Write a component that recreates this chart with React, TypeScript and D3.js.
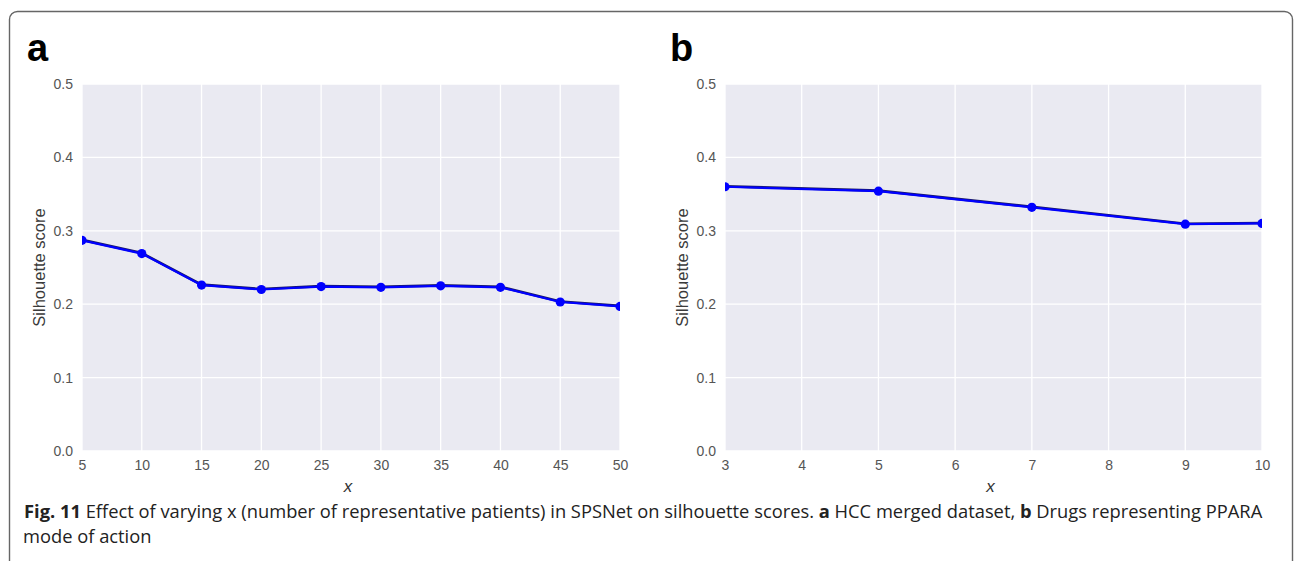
import React, { useRef, useEffect } from 'react';
import * as d3 from 'd3';

// panel a: HCC merged dataset
const xA = [5, 10, 15, 20, 25, 30, 35, 40, 45, 50];
const scoreA = [0.287, 0.269, 0.226, 0.220, 0.224, 0.223, 0.225, 0.223, 0.203, 0.197];
// panel b: drugs representing PPARA mode of action
const xB = [3, 5, 7, 9, 10];
const scoreB = [0.360, 0.354, 0.332, 0.309, 0.310];

const xTicksA = [5, 10, 15, 20, 25, 30, 35, 40, 45, 50];
const xTicksB = [3, 4, 5, 6, 7, 8, 9, 10];
const yTicks = [0, 0.1, 0.2, 0.3, 0.4, 0.5];

const W = 1295, H = 561;

const App = () => {
    const svgRef = useRef<SVGSVGElement>(null);

    useEffect(() => {
        const svg = d3.select(svgRef.current);
        svg.selectAll("*").remove();

        // frame around the figure
        svg.append("rect")
            .attr("x", 9.5).attr("y", 11.5)
            .attr("width", 1283).attr("height", 600)
            .attr("rx", 8)
            .attr("fill", "none")
            .attr("stroke", "#666")
            .attr("stroke-width", 1.4);

        const panels = [
            { id: "a", left: 82, right: 620, xs: xA, ys: scoreA, ticks: xTicksA, domain: [5, 50] },
            { id: "b", left: 725, right: 1262, xs: xB, ys: scoreB, ticks: xTicksB, domain: [3, 10] },
        ];
        const top = 84, bottom = 451;

        panels.forEach(p => {
            const x = d3.scaleLinear().domain(p.domain).range([p.left, p.right]);
            const y = d3.scaleLinear().domain([0, 0.5]).range([bottom, top]);
            const g = svg.append("g");

            g.append("rect")
                .attr("x", p.left).attr("y", top)
                .attr("width", p.right - p.left).attr("height", bottom - top)
                .attr("fill", "#EAEAF2");

            // grid
            g.append("g").selectAll("line").data(p.ticks).join("line")
                .attr("x1", d => x(d)).attr("x2", d => x(d))
                .attr("y1", top).attr("y2", bottom)
                .attr("stroke", "#fff").attr("stroke-width", 1.3);
            g.append("g").selectAll("line").data(yTicks).join("line")
                .attr("x1", p.left).attr("x2", p.right)
                .attr("y1", d => y(d)).attr("y2", d => y(d))
                .attr("stroke", "#fff").attr("stroke-width", 1.3);

            // axes (no domain, no tick marks)
            const xAxis = g.append("g")
                .attr("transform", `translate(0,${bottom})`)
                .call(d3.axisBottom(x).tickValues(p.ticks).tickSize(0).tickPadding(9).tickFormat(d3.format("d")));
            const yAxis = g.append("g")
                .attr("transform", `translate(${p.left},0)`)
                .call(d3.axisLeft(y).tickValues(yTicks).tickSize(0).tickPadding(9).tickFormat(d3.format(".1f")));
            [xAxis, yAxis].forEach(a => {
                a.select(".domain").remove();
                a.selectAll("text")
                    .attr("fill", "#555")
                    .attr("font-size", 14)
                    .attr("font-family", "Liberation Sans, Arial, sans-serif");
            });

            // data line
            const clipId = "clip-" + p.id;
            svg.append("clipPath").attr("id", clipId)
                .append("rect")
                .attr("x", p.left).attr("y", top)
                .attr("width", p.right - p.left).attr("height", bottom - top);
            const pts = p.xs.map((v, i) => [v, p.ys[i]] as [number, number]);
            const line = d3.line<[number, number]>().x(d => x(d[0])).y(d => y(d[1]));
            const dg = g.append("g").attr("clip-path", `url(#${clipId})`);
            dg.append("path")
                .attr("d", line(pts))
                .attr("fill", "none")
                .attr("stroke", "#1a1a60")
                .attr("stroke-width", 2.6)
                .attr("transform", "translate(0,-0.5)");
            dg.append("path")
                .attr("d", line(pts))
                .attr("fill", "none")
                .attr("stroke", "#0000ff")
                .attr("stroke-width", 2.2);
            dg.selectAll("circle").data(pts).join("circle")
                .attr("cx", d => x(d[0])).attr("cy", d => y(d[1]))
                .attr("r", 4.6)
                .attr("fill", "#0000ff");

            // labels
            g.append("text")
                .attr("x", (p.left + p.right) / 2 - 3).attr("y", 492)
                .attr("text-anchor", "middle")
                .attr("font-family", "Liberation Sans, Arial, sans-serif")
                .attr("font-style", "italic")
                .attr("font-size", 17)
                .attr("fill", "#333")
                .text("x");
            g.append("text")
                .attr("transform", `translate(${p.left - 37},${(top + bottom) / 2}) rotate(-90)`)
                .attr("text-anchor", "middle")
                .attr("font-family", "Liberation Sans, Arial, sans-serif")
                .attr("font-size", 16.5)
                .attr("fill", "#3a3a3a")
                .text("Silhouette score");
            g.append("text")
                .attr("x", p.left - 55).attr("y", 61)
                .attr("font-family", "Liberation Sans, Arial, sans-serif")
                .attr("font-weight", "bold")
                .attr("font-size", 38)
                .attr("fill", "#000")
                .text(p.id);
        });

        // caption
        const cap = svg.append("g")
            .attr("font-family", "Open Sans, Noto Sans, sans-serif")
            .attr("fill", "#222");
        const l1 = cap.append("text").attr("x", 24).attr("y", 518).attr("font-size", 15);
        l1.append("tspan").attr("font-weight", "bold").text("Fig. 11");
        l1.append("tspan").text(" Effect of varying x (number of representative patients) in SPSNet on silhouette scores. ");
        l1.append("tspan").attr("font-weight", "bold").text("a");
        l1.append("tspan").text(" HCC merged dataset, ");
        l1.append("tspan").attr("font-weight", "bold").text("b");
        l1.append("tspan").text(" Drugs representing PPARA");
        const node = l1.node() as SVGTextElement;
        const wdt = node.getComputedTextLength();
        const fs = 15 * 1239 / wdt;
        l1.attr("font-size", fs);
        cap.append("text").attr("x", 23).attr("y", 543).attr("font-size", fs).text("mode of action");
    }, []);

    return (
        <svg ref={svgRef} width={W} height={H}
            style={{ position: 'absolute', left: 0, top: 0, background: '#fff' }} />
    );
};

export default App;
